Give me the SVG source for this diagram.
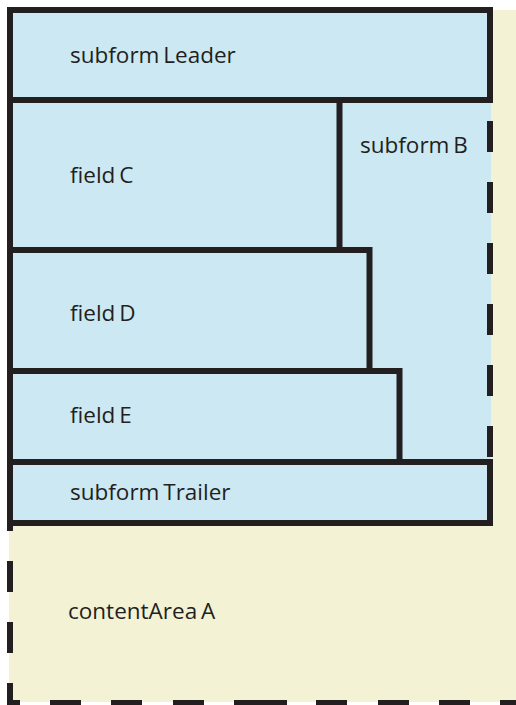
<svg xmlns="http://www.w3.org/2000/svg" width="516" height="705" viewBox="0 0 516 705">
  <style>
    .box { fill: #CBE8F3; stroke: #231F20; stroke-width: 6; stroke-linejoin: miter; }
    .dash { fill: none; stroke: #231F20; stroke-width: 6; stroke-linecap: butt; }
    .lbl { font-family: "Open Sans", "Liberation Sans", sans-serif; font-size: 22.5px; fill: #231F20; word-spacing: -2px; }
  </style>
  <rect width="516" height="705" fill="#ffffff"/>
  <g id="contentAreaA">
    <rect x="9" y="10" width="510" height="692" fill="#F3F2D5"/>
    <line class="dash" x1="10" y1="703" x2="10" y2="480" stroke-dasharray="20 30 31 30 31 30 31 30"/>
    <line class="dash" x1="7" y1="703" x2="265" y2="703" stroke-dasharray="13 30 31 30 31 31 31 30 31"/>
    <line class="dash" x1="256" y1="703" x2="520" y2="703" stroke-dasharray="31 29 31 31 31 30 31 30 31"/>
    <text class="lbl" x="68" y="619">contentArea A</text>
  </g>
  <g id="subformB">
    <rect x="10" y="100" width="481" height="361" fill="#CBE8F3"/>
    <line class="dash" x1="490" y1="121" x2="490" y2="460" stroke-dasharray="31 30"/>
    <text class="lbl" x="360" y="153">subform B</text>
  </g>
  <g id="subformLeader">
    <rect class="box" x="10" y="10" width="480" height="90"/>
    <text class="lbl" x="70" y="63">subform Leader</text>
  </g>
  <g id="fieldC">
    <rect class="box" x="10" y="100" width="329.5" height="150"/>
    <text class="lbl" x="70" y="183">field C</text>
  </g>
  <g id="fieldD">
    <rect class="box" x="10" y="250" width="359.5" height="121"/>
    <text class="lbl" x="70" y="321">field D</text>
  </g>
  <g id="fieldE">
    <rect class="box" x="10" y="371" width="389.5" height="91"/>
    <text class="lbl" x="70" y="423">field E</text>
  </g>
  <g id="subformTrailer">
    <rect class="box" x="10" y="462" width="480" height="61"/>
    <text class="lbl" x="70" y="500">subform Trailer</text>
  </g>
</svg>
